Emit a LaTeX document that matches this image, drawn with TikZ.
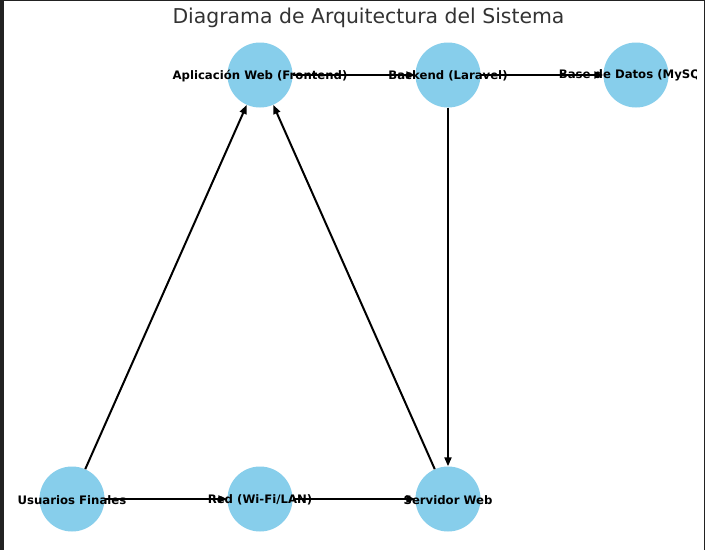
\documentclass[tikz,border=0pt]{standalone}
\usepackage{fontspec}
\setmainfont{DejaVu Sans}
\usetikzlibrary{arrows.meta}
\definecolor{nodeblue}{HTML}{87CEEB}
\definecolor{titlegray}{HTML}{333333}
\definecolor{framedark}{HTML}{222222}
\tikzset{
  vert/.style={circle,fill=nodeblue,minimum size=65pt,inner sep=0pt},
  lbl/.style={font=\fontsize{11.7}{14}\selectfont\bfseries,inner sep=0pt,text=black},
  edge/.style={draw=black,line width=2pt,-{Triangle[length=9pt,width=7pt]}},
}
\begin{document}
\begin{tikzpicture}[x=1pt,y=-1pt]
\useasboundingbox (0,0) rectangle (705,550);
\fill[white] (0,0) rectangle (705,550);
\fill[framedark] (0,0) rectangle (4,550);
\draw[framedark,line width=1.2pt] (0,0.6) -- (705,0.6);
\draw[framedark,line width=1.2pt] (704.4,0) -- (704.4,550);

\node[font=\fontsize{20.4}{24}\selectfont,text=titlegray,inner sep=0pt] (title) at (368.5,18) {Diagrama de Arquitectura del Sistema};

\node[vert] (app) at (260,75) {};
\node[vert] (back) at (448,75) {};
\node[vert] (db) at (636,75) {};
\node[vert] (users) at (72,499) {};
\node[vert] (red) at (260,499) {};
\node[vert] (serv) at (448,499) {};

\draw[edge] (users) -- (app);
\draw[edge] (users) -- (red);
\draw[edge] (red) -- (serv);
\draw[edge] (serv) -- (app);
\draw[edge] (app) -- (back);
\draw[edge] (back) -- (db);
\draw[edge] (back) -- (serv);

\begin{scope}
\clip (0,0) rectangle (696,550);
\node[lbl] (lapp) at (260,75.8) {Aplicación Web (Frontend)};
\node[lbl] (lback) at (448,75.8) {Backend (Laravel)};
\node[lbl] (ldb) at (636,75.8) {Base de Datos (MySQL)};
\node[lbl] (lusers) at (72,499.8) {Usuarios Finales};
\node[lbl] (lred) at (260,499.8) {Red (Wi-Fi/LAN)};
\node[lbl] (lserv) at (448,499.8) {Servidor Web};
\end{scope}
\end{tikzpicture}
\end{document}
